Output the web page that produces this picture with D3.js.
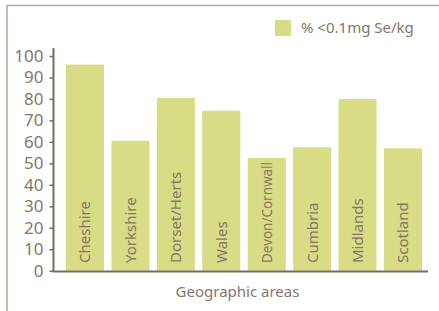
<!DOCTYPE html>
<html>
<head>
<meta charset="utf-8">
<script src="https://cdn.jsdelivr.net/npm/d3@7"></script>
<style>
  body { margin: 0; background: #fff; }
  text { font-family: "Noto Sans", sans-serif; fill: #85766a; }
</style>
</head>
<body>
<svg id="chart" width="439" height="311"></svg>
<script>
// Data
var areas = ["Cheshire", "Yorkshire", "Dorset/Herts", "Wales", "Devon/Cornwall", "Cumbria", "Midlands", "Scotland"];
var pctLow = [96, 60.5, 80.5, 74.5, 52.5, 57.5, 80, 57];
var yTicks = [0, 10, 20, 30, 40, 50, 60, 70, 80, 90, 100];
var seriesName = "% <0.1mg Se/kg";

var barColor = "#d8dc85",
    axisColor = "#7b6b5a",
    frameColor = "#b7ab9f";

var svg = d3.select("#chart");

// frame (top and left edge of the box)
svg.append("path")
    .attr("d", "M7,311 V5.5 H439")
    .attr("fill", "none")
    .attr("stroke", frameColor)
    .attr("stroke-width", 1.6);

var x = d3.scaleBand()
    .domain(areas)
    .range([62.3, 425.7])
    .paddingInner(0.1636)
    .paddingOuter(0.0818);

var y = d3.scaleLinear()
    .domain([0, 100])
    .range([270.7, 56]);

// bars
svg.selectAll("rect.bar")
    .data(areas)
    .enter().append("rect")
    .attr("class", "bar")
    .attr("x", function(d) { return x(d); })
    .attr("width", x.bandwidth())
    .attr("y", function(d, i) { return y(pctLow[i]); })
    .attr("height", function(d, i) { return y(0) - y(pctLow[i]); })
    .attr("fill", barColor);

// bar labels, rotated inside the bars
svg.selectAll("text.bar-label")
    .data(areas)
    .enter().append("text")
    .attr("class", "bar-label")
    .attr("transform", function(d) {
        return "translate(" + (x(d) + x.bandwidth() / 2) + "," + 263 + ") rotate(-90)";
    })
    .attr("dy", "0.36em")
    .style("font-size", "15px")
    .text(function(d) { return d; })
    .each(function(d, i) {
        // squeeze labels that would run past the top of their bar
        var room = 263 - y(pctLow[i]) - 4;
        if (this.getComputedTextLength() > room) {
            d3.select(this).attr("textLength", room).attr("lengthAdjust", "spacingAndGlyphs");
        }
    });

// y axis
var yAxis = d3.axisLeft(y)
    .tickValues(yTicks)
    .tickSize(4)
    .tickPadding(6)
    .tickSizeOuter(0);

var gy = svg.append("g")
    .attr("transform", "translate(53.5,0)")
    .call(yAxis);
gy.select(".domain").remove();
gy.selectAll(".tick line").attr("stroke", axisColor).attr("stroke-width", 1.5);
gy.selectAll(".tick text")
    .attr("fill", "#85766a")
    .style("font-family", "'Noto Sans', sans-serif")
    .style("font-size", "17px");

// axis lines
svg.append("line")
    .attr("x1", 53.5).attr("x2", 53.5)
    .attr("y1", 48).attr("y2", 272)
    .attr("stroke", axisColor)
    .attr("stroke-width", 2);
svg.append("line")
    .attr("x1", 52.5).attr("x2", 428)
    .attr("y1", 271.5).attr("y2", 271.5)
    .attr("stroke", axisColor)
    .attr("stroke-width", 2);

// x axis title
svg.append("text")
    .attr("x", 237.5)
    .attr("y", 297)
    .attr("text-anchor", "middle")
    .style("font-size", "15px")
    .text("Geographic areas");

// legend
var legend = svg.append("g").attr("transform", "translate(275,20)");
legend.append("rect")
    .attr("width", 16)
    .attr("height", 16)
    .attr("fill", barColor);
legend.append("text")
    .attr("x", 26)
    .attr("y", 8)
    .attr("dy", "0.36em")
    .style("font-size", "15px")
    .text(seriesName);
</script>
</body>
</html>
